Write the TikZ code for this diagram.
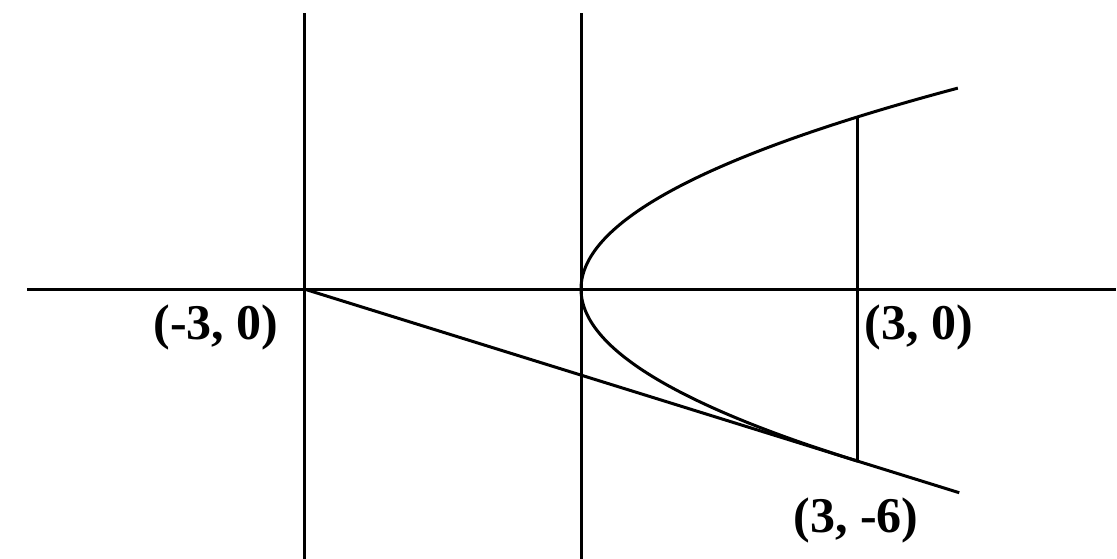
\documentclass[tikz,border=0pt]{standalone}
\usepackage{fontspec}
\setmainfont{Liberation Serif}
\usetikzlibrary{calc}
\tikzset{
  curve/.style={line width=1.5pt, black},
  lbl/.style={font=\fontsize{25}{28}\selectfont\bfseries, inner sep=0pt}
}
\begin{document}
\begin{tikzpicture}[x=0.5pt,y=-0.5pt]
\useasboundingbox (0,0) rectangle (1117,558);
\begin{scope}[shift={(581,289)}, x=46.15pt, y=14.35pt]
  \coordinate (O) at (0,0);
  \coordinate (D) at (-3,0);
  \coordinate (T) at (3,-6);
  \coordinate (P) at (3,6);
  \coordinate (F) at (3,0);
  \coordinate (xl) at (-6.0,0);
  \coordinate (xr) at (5.8,0);
  \coordinate (dt) at (-3,9.6);
  \coordinate (db) at (-3,-9.4);
  \coordinate (yt) at (0,9.6);
  \coordinate (yb) at (0,-9.4);
  \draw[curve] (xl) -- (xr);
  \draw[curve] (dt) -- (db);
  \draw[curve] (yt) -- (yb);
  \draw[curve] (P) -- (T);
  \draw[curve] (D) -- ($(D)!1.183!(T)$);
  \draw[curve] plot[domain=-6.0:7.0, samples=80, smooth] ({\x*\x/12},\x);
\end{scope}
\node[lbl] (l1) at (216,327) {(-3, 0)};
\node[lbl] (l2) at (919,327) {(3, 0)};
\node[lbl] (l3) at (856,520) {(3, -6)};
\end{tikzpicture}
\end{document}
